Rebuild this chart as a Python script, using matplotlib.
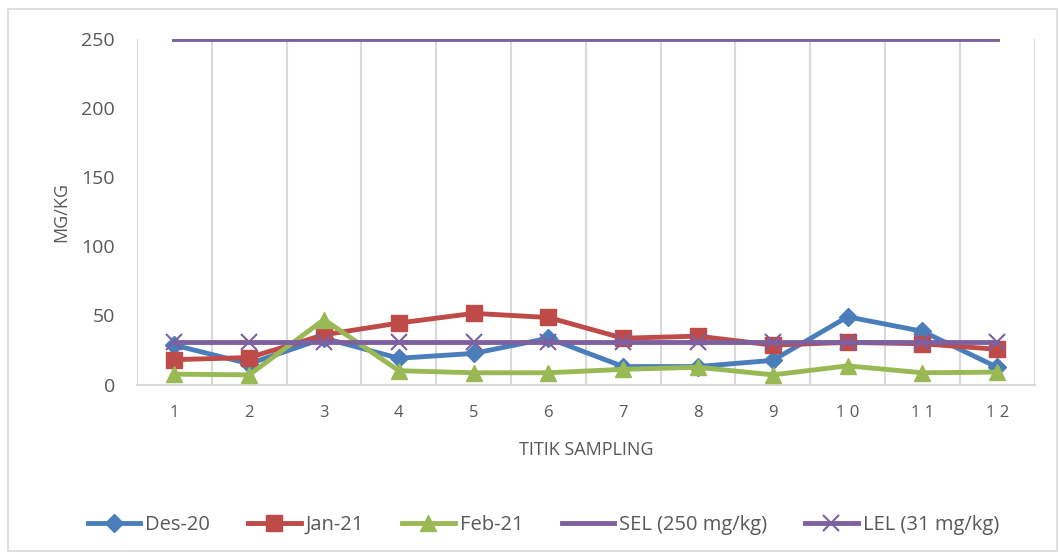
import numpy as np
import matplotlib.pyplot as plt
from matplotlib.patches import Rectangle

plt.rcParams['font.family'] = ['Open Sans', 'DejaVu Sans']

# Sampling points and measured concentrations (mg/kg)
titik = list(range(1, 13))
tick_labels = ['1', '2', '3', '4', '5', '6', '7', '8', '9', '1 0', '1 1', '1 2']
des_20 = [28.5, 15, 33.5, 19, 22.5, 33.5, 13, 13, 17.5, 49, 38.5, 12.5]
jan_21 = [18, 19.5, 36, 44.5, 51.5, 48.5, 33.5, 35, 28.5, 30.5, 29.5, 25.5]
feb_21 = [7.5, 7, 47, 10, 8.5, 8.5, 11, 12.5, 7, 13.5, 8.5, 9]
sel = [250] * 12
lel = [31] * 12

fig = plt.figure(figsize=(10.59, 5.52), dpi=100)
ax = fig.add_axes([0.1294, 0.3034, 0.8476, 0.6259])

# chart border
fig.patches.append(Rectangle((8 / 1059, 1 / 552), 1049 / 1059, 542 / 552,
                             transform=fig.transFigure, fill=False,
                             edgecolor='#d9d9d9', linewidth=1.2))

x = np.array(titik)
ax.plot(x, des_20, color='#4a7ebb', lw=3.5, marker='D', ms=9, label='Des-20', zorder=3)
ax.plot(x, jan_21, color='#be4b48', lw=3.5, marker='s', ms=12, label='Jan-21', zorder=3)
ax.plot(x, feb_21, color='#98b954', lw=3.5, marker='^', ms=12, label='Feb-21', zorder=3)
ax.plot(x, sel, color='#7d60a0', lw=3.5, label='SEL (250 mg/kg)', zorder=3)
ax.plot(x, lel, color='#7d60a0', lw=3.5, marker='x', ms=12, mew=1.5,
        label='LEL (31 mg/kg)', zorder=4)

ax.set_xlim(0.5, 12.5)
ax.set_ylim(0, 250)
ax.set_yticks([0, 50, 100, 150, 200, 250])
ax.set_xticks(x)
ax.set_xticklabels(tick_labels)

# vertical gridlines between categories
for b in np.arange(0.5, 12.6, 1):
    ax.axvline(b, color='#d9d9d9', lw=1.5, zorder=1)

for s in ['top', 'right', 'left']:
    ax.spines[s].set_visible(False)
ax.spines['bottom'].set_color('#d9d9d9')
ax.spines['bottom'].set_linewidth(1.5)
ax.tick_params(axis='both', length=0, colors='#595959')
ax.tick_params(axis='y', labelsize=14, pad=16)
ax.tick_params(axis='x', labelsize=12, pad=15)

ax.set_xlabel('TITIK SAMPLING', fontsize=13, color='#595959', labelpad=14)
ax.set_ylabel('MG/KG', fontsize=13, color='#595959', labelpad=8)

leg = ax.legend(loc='upper center', bbox_to_anchor=(0.4526, -0.325), ncol=5,
                frameon=False, fontsize=14.5, handlelength=2.6, columnspacing=1.9,
                handletextpad=0.25)
for t in leg.get_texts():
    t.set_color('#595959')

fig.savefig('out.png', dpi=100)
